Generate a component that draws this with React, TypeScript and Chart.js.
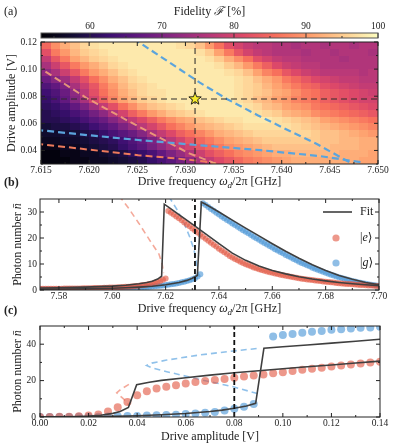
import React, { useEffect, useRef } from "react";
import { Chart, registerables } from "chart.js";

Chart.register(...registerables);

const W = 397;
const H = 446;
const SERIF = "'Liberation Serif', 'DejaVu Serif', serif";
const INK = "#222222";

// ---------------- Panel (a): readout fidelity map ----------------
const heatFreq = [7.6155, 7.6165, 7.6175, 7.6185, 7.6195, 7.6205, 7.6215, 7.6225, 7.6235, 7.6245, 7.6255, 7.6265, 7.6275, 7.6285, 7.6295, 7.6305, 7.6315, 7.6325, 7.6335, 7.6345, 7.6355, 7.6365, 7.6375, 7.6385, 7.6395, 7.6405, 7.6415, 7.6425, 7.6435, 7.6445, 7.6455, 7.6465, 7.6475, 7.6485, 7.6495];
const heatAmp = [0.1175, 0.1125, 0.1075, 0.1025, 0.0975, 0.0925, 0.0875, 0.0825, 0.0775, 0.0725, 0.0675, 0.0625, 0.0575, 0.0525, 0.0475, 0.0425, 0.0375, 0.0325];
const fidelity = [
  [85, 89, 92, 94, 96, 97, 98, 98, 98, 98, 98, 98, 98, 98, 97, 96, 94, 90, 86, 82, 80, 78, 77, 77, 76, 76, 75, 76, 76, 75, 76, 76, 75, 76, 76],
  [82, 87, 90, 93, 95, 96, 97, 98, 98, 98, 98, 98, 98, 98, 98, 98, 97, 95, 91, 87, 83, 80, 78, 77, 76, 76, 76, 75, 76, 76, 75, 76, 76, 76, 75],
  [78, 83, 87, 91, 93, 95, 96, 97, 98, 98, 98, 98, 98, 98, 98, 98, 98, 97, 95, 92, 89, 86, 82, 80, 78, 77, 77, 76, 76, 76, 76, 75, 76, 76, 76],
  [75, 79, 83, 87, 90, 92, 94, 96, 97, 98, 98, 98, 98, 98, 98, 98, 98, 98, 97, 95, 93, 90, 87, 84, 81, 79, 78, 77, 77, 76, 76, 76, 76, 76, 76],
  [72, 75, 79, 83, 87, 90, 92, 94, 96, 97, 98, 98, 98, 98, 98, 98, 98, 98, 98, 97, 96, 94, 91, 88, 86, 83, 81, 79, 78, 77, 77, 77, 77, 76, 77],
  [68, 71, 74, 78, 82, 86, 89, 92, 94, 96, 97, 98, 98, 98, 98, 98, 98, 98, 98, 98, 97, 96, 94, 92, 90, 87, 85, 83, 81, 80, 79, 78, 78, 77, 77],
  [65, 67, 70, 75, 79, 83, 87, 90, 93, 95, 96, 97, 98, 98, 98, 98, 98, 98, 98, 98, 97, 96, 95, 93, 91, 89, 87, 85, 84, 82, 81, 80, 79, 78, 78],
  [63, 65, 68, 72, 77, 82, 86, 89, 92, 94, 96, 97, 97, 98, 98, 98, 98, 98, 98, 98, 97, 96, 95, 94, 92, 91, 89, 87, 86, 84, 83, 82, 81, 80, 79],
  [62, 64, 67, 71, 75, 80, 84, 88, 91, 93, 95, 96, 97, 98, 98, 98, 98, 98, 98, 98, 97, 96, 94, 93, 91, 90, 88, 87, 86, 84, 83, 82, 81, 80, 80],
  [61, 62, 64, 67, 70, 74, 78, 82, 86, 89, 92, 94, 95, 96, 97, 98, 98, 98, 98, 98, 98, 97, 96, 94, 93, 91, 90, 89, 87, 86, 85, 84, 83, 82, 81],
  [60, 61, 62, 64, 66, 69, 72, 76, 80, 84, 87, 90, 92, 94, 95, 96, 97, 98, 98, 98, 98, 98, 97, 96, 95, 93, 92, 91, 89, 88, 87, 86, 85, 84, 83],
  [60, 60, 61, 62, 64, 66, 68, 71, 74, 78, 81, 84, 87, 89, 91, 92, 94, 95, 96, 97, 97, 98, 98, 98, 97, 96, 95, 94, 93, 91, 90, 89, 88, 87, 86],
  [58, 59, 59, 60, 61, 63, 65, 67, 70, 73, 77, 80, 83, 86, 88, 90, 92, 93, 94, 95, 96, 97, 97, 97, 97, 97, 96, 95, 94, 93, 92, 91, 90, 89, 88],
  [57, 57, 58, 58, 59, 60, 62, 64, 66, 68, 71, 75, 78, 81, 84, 86, 88, 90, 92, 93, 94, 95, 96, 96, 96, 96, 96, 96, 95, 94, 94, 93, 92, 91, 90],
  [56, 56, 57, 57, 58, 59, 60, 61, 63, 65, 67, 70, 73, 77, 80, 83, 85, 87, 89, 91, 92, 93, 94, 95, 95, 95, 95, 95, 95, 94, 94, 93, 93, 92, 92],
  [55, 55, 56, 56, 57, 58, 59, 60, 62, 64, 66, 69, 72, 75, 78, 80, 83, 85, 87, 89, 90, 91, 92, 93, 94, 94, 94, 94, 94, 94, 93, 93, 93, 92, 92],
  [54, 54, 55, 55, 56, 56, 57, 58, 59, 61, 62, 64, 67, 70, 73, 76, 79, 82, 84, 86, 88, 89, 90, 91, 92, 92, 93, 93, 93, 93, 93, 92, 92, 92, 91],
  [54, 54, 54, 55, 55, 56, 56, 57, 58, 59, 60, 62, 64, 66, 69, 72, 75, 78, 81, 83, 85, 87, 88, 89, 90, 91, 92, 92, 92, 92, 92, 92, 92, 91, 91],
];
const fidelityMin = 53.2;
const fidelityMax = 100;
const cbarTicks = [60, 70, 80, 90, 100];
const cbarMinor = [55, 65, 75, 85, 95];
const freqTicksA = [7.615, 7.62, 7.625, 7.63, 7.635, 7.64, 7.645, 7.65];
const freqMinorA = [7.6175, 7.6225, 7.6275, 7.6325, 7.6375, 7.6425, 7.6475];
const ampTicksA = [0.04, 0.06, 0.08, 0.1, 0.12];
const ampMinorA = [0.03, 0.05, 0.07, 0.09, 0.11];

// bistability boundaries (dashed)
const gUpperFreq = [7.6246, 7.629, 7.6315, 7.6343, 7.6375, 7.6405, 7.6436, 7.6476];
const gUpperAmp = [0.1225, 0.1018, 0.09, 0.078, 0.066, 0.0555, 0.045, 0.029];
const gLowerFreq = [7.6145, 7.62, 7.6251, 7.6312, 7.6378, 7.644, 7.6485];
const gLowerAmp = [0.0552, 0.0512, 0.0477, 0.044, 0.0402, 0.0358, 0.031];
const eUpperFreq = [7.6145, 7.615, 7.6197, 7.6242, 7.6304, 7.6329, 7.6335];
const eUpperAmp = [0.1025, 0.1003, 0.0788, 0.0612, 0.0378, 0.031, 0.0295];
const eLowerFreq = [7.6145, 7.6251, 7.6291, 7.632, 7.6332];
const eLowerAmp = [0.045, 0.0365, 0.0341, 0.0318, 0.03];

const opFreq = 7.631;
const opAmpMap = 0.078;
const opAmp = 0.08;

// ---------------- Panel (b): photon number vs drive frequency ----------------
const freqB = [
  7.573, 7.574, 7.575, 7.576, 7.577, 7.578, 7.579, 7.58, 7.581, 7.582,
  7.583, 7.584, 7.585, 7.586, 7.587, 7.588, 7.589, 7.59, 7.591, 7.592,
  7.593, 7.594, 7.595, 7.596, 7.597, 7.598, 7.599, 7.6, 7.601, 7.602,
  7.603, 7.604, 7.605, 7.606, 7.607, 7.608, 7.609, 7.61, 7.611, 7.612,
  7.613, 7.614, 7.615, 7.616, 7.617, 7.618, 7.619, 7.62, 7.621, 7.622,
  7.623, 7.624, 7.625, 7.626, 7.627, 7.628, 7.629, 7.63, 7.631, 7.632,
  7.633, 7.634, 7.635, 7.636, 7.637, 7.638, 7.639, 7.64, 7.641, 7.642,
  7.643, 7.644, 7.645, 7.646, 7.647, 7.648, 7.649, 7.65, 7.651, 7.652,
  7.653, 7.654, 7.655, 7.656, 7.657, 7.658, 7.659, 7.66, 7.661, 7.662,
  7.663, 7.664, 7.665, 7.666, 7.667, 7.668, 7.669, 7.67, 7.671, 7.672,
  7.673, 7.674, 7.675, 7.676, 7.677, 7.678, 7.679, 7.68, 7.681, 7.682,
  7.683, 7.684, 7.685, 7.686, 7.687, 7.688, 7.689, 7.69, 7.691, 7.692,
  7.693, 7.694, 7.695, 7.696, 7.697, 7.698, 7.699, 7.7,
];
const photonE_B = [
  0.45, 0.45, 0.46, 0.47, 0.48, 0.49, 0.5, 0.51, 0.52, 0.53,
  0.54, 0.56, 0.57, 0.59, 0.6, 0.62, 0.64, 0.66, 0.68, 0.7,
  0.73, 0.75, 0.78, 0.81, 0.84, 0.88, 0.92, 0.96, 1.0, 1.05,
  1.1, 1.16, 1.22, 1.29, 1.37, 1.45, 1.55, 1.66, 1.78, 1.92,
  2.08, 2.27, 2.5, 2.76, 3.08, 3.46, 3.95, 4.45, 30.4, 29.7,
  29.0, 28.3, 27.6, 26.8, 26.0, 25.2, 24.5, 23.7, 22.9, 22.1,
  21.3, 20.5, 19.7, 18.9, 18.2, 17.4, 16.7, 15.9, 15.2, 14.5,
  13.8, 13.1, 12.5, 11.9, 11.4, 10.9, 10.4, 9.9, 9.5, 9.1,
  8.7, 8.35, 8.0, 7.7, 7.4, 7.1, 6.85, 6.6, 6.35, 6.15,
  5.9, 5.7, 5.5, 5.3, 5.1, 4.9, 4.7, 4.5, 4.35, 4.2,
  4.05, 3.9, 3.8, 3.7, 3.55, 3.45, 3.3, 3.2, 3.1, 2.95,
  2.85, 2.7, 2.6, 2.5, 2.45, 2.35, 2.3, 2.2, 2.1, 2.05,
  1.95, 1.9, 1.8, 1.75, 1.7, 1.6, 1.55, 1.5,
];
const photonG_B = [
  0.3, 0.3, 0.31, 0.31, 0.32, 0.32, 0.33, 0.33, 0.34, 0.35,
  0.35, 0.36, 0.37, 0.38, 0.39, 0.4, 0.41, 0.42, 0.44, 0.45,
  0.47, 0.48, 0.5, 0.52, 0.54, 0.56, 0.58, 0.6, 0.63, 0.66,
  0.69, 0.72, 0.75, 0.79, 0.83, 0.88, 0.93, 0.98, 1.04, 1.1,
  1.17, 1.25, 1.33, 1.42, 1.52, 1.63, 1.75, 1.88, 2.02, 2.17,
  2.34, 2.52, 2.72, 2.94, 3.18, 3.45, 3.75, 4.1, 4.5, 5.2,
  6.1, 33.4, 32.7, 31.9, 31.2, 30.5, 29.7, 29.0, 28.3, 27.6,
  26.9, 26.3, 25.6, 25.0, 24.3, 23.7, 23.0, 22.4, 21.8, 21.2,
  20.5, 19.9, 19.3, 18.7, 18.1, 17.5, 16.9, 16.3, 15.7, 15.2,
  14.6, 14.1, 13.5, 13.0, 12.5, 11.9, 11.4, 10.9, 10.4, 10.0,
  9.5, 9.1, 8.6, 8.2, 7.8, 7.4, 7.0, 6.6, 6.25, 5.9,
  5.55, 5.2, 4.9, 4.6, 4.3, 4.0, 3.75, 3.5, 3.25, 3.0,
  2.8, 2.6, 2.4, 2.2, 2.05, 1.9, 1.75, 1.6,
];
const fitEFreqB = [7.573, 7.58, 7.59, 7.6, 7.605, 7.61, 7.613, 7.615, 7.617, 7.6185, 7.6195, 7.622, 7.625, 7.63, 7.635, 7.64, 7.645, 7.65, 7.655, 7.66, 7.665, 7.67, 7.675, 7.68, 7.685, 7.69, 7.695, 7.7];
const fitEValB = [0.75, 0.85, 1.1, 1.5, 1.85, 2.4, 2.9, 3.4, 4.2, 5.3, 33.0, 31.2, 29.0, 25.3, 21.6, 17.8, 14.2, 11.4, 9.2, 7.5, 6.2, 5.1, 4.2, 3.5, 2.9, 2.4, 2.0, 1.7];
const fitGFreqB = [7.573, 7.58, 7.59, 7.6, 7.605, 7.61, 7.615, 7.62, 7.625, 7.628, 7.63, 7.6319, 7.6334, 7.635, 7.64, 7.645, 7.65, 7.655, 7.66, 7.665, 7.67, 7.675, 7.68, 7.685, 7.69, 7.695, 7.7];
const fitGValB = [0.35, 0.4, 0.5, 0.7, 0.85, 1.1, 1.45, 2.0, 2.9, 3.7, 4.5, 5.6, 33.8, 33.0, 30.0, 26.9, 23.8, 20.8, 17.8, 14.9, 12.2, 9.7, 7.5, 5.6, 4.1, 2.9, 2.0];
const unstEFreqB = [7.6025, 7.606, 7.61, 7.614, 7.6175, 7.6187, 7.6192];
const unstEValB = [36.3, 31.6, 25.6, 19.2, 13.8, 10.0, 6.5];
const unstGFreqB = [7.6212, 7.6245, 7.627, 7.629, 7.6305, 7.6314, 7.6319, 7.6321];
const unstGValB = [36.0, 30.5, 25.5, 20.5, 16.0, 12.0, 8.0, 6.0];
const freqTicksB = [7.58, 7.6, 7.62, 7.64, 7.66, 7.68, 7.7];
const freqMinorB = [7.59, 7.61, 7.63, 7.65, 7.67, 7.69];
const photonTicksB = [0, 10, 20, 30];
const photonMinorB = [5, 15, 25];

// ---------------- Panel (c): photon number vs drive amplitude ----------------
const ampC = [0, 0.004, 0.008, 0.012, 0.016, 0.02, 0.024, 0.028, 0.032, 0.036, 0.04, 0.044, 0.048, 0.052, 0.056, 0.06, 0.064, 0.068, 0.072, 0.076, 0.08, 0.084, 0.088, 0.092, 0.096, 0.1, 0.104, 0.108, 0.112, 0.116, 0.12, 0.124, 0.128, 0.132, 0.136, 0.14];
const photonE_C = [0, 0, 0.1, 0.2, 0.4, 0.8, 1.4, 3.0, 5.3, 8.2, 12.0, 14.2, 15.6, 16.6, 17.5, 18.4, 19.2, 19.8, 20.3, 20.9, 21.6, 22.2, 22.8, 23.4, 24.0, 24.6, 25.3, 25.9, 26.5, 27.1, 27.7, 28.3, 28.8, 29.4, 29.9, 30.3];
const photonG_C = [0, 0, 0, 0.05, 0.1, 0.15, 0.2, 0.3, 0.4, 0.5, 0.6, 0.8, 0.9, 1.1, 1.3, 1.6, 1.9, 2.3, 2.8, 3.6, 4.5, 5.6, 7.2, null, 44.2, 45.0, 45.6, 46.3, 46.8, 47.3, 47.9, 48.2, 48.6, 49.0, 49.2, 49.6];
const fitEAmpC = [0, 0.005, 0.01, 0.015, 0.02, 0.025, 0.03, 0.033, 0.0364, 0.0398, 0.045, 0.05, 0.06, 0.07, 0.08, 0.09, 0.1, 0.11, 0.12, 0.13, 0.14];
const fitEValC = [0, 0.03, 0.1, 0.25, 0.5, 1.0, 2.0, 3.0, 5.2, 17.8, 19.1, 20.1, 21.6, 23.0, 24.3, 25.4, 26.5, 27.6, 28.6, 29.7, 30.7];
const fitGAmpC = [0, 0.01, 0.02, 0.03, 0.04, 0.05, 0.06, 0.07, 0.075, 0.08, 0.085, 0.0888, 0.0922, 0.1, 0.11, 0.12, 0.13, 0.14];
const fitGValC = [0, 0.05, 0.15, 0.35, 0.7, 1.2, 1.9, 3.0, 3.8, 4.8, 6.0, 7.5, 37.8, 38.6, 39.6, 40.6, 41.6, 42.7];
const unstEAmpC = [0.0366, 0.0345, 0.0325, 0.0316, 0.0325, 0.0345, 0.0366];
const unstEValC = [17.9, 16.2, 14.4, 13.3, 12.2, 9.8, 6.6];
const unstGAmpC = [0.0892, 0.0796, 0.0659, 0.0522, 0.046, 0.0439, 0.046, 0.0522, 0.0659, 0.0796, 0.0897];
const unstGValC = [37.6, 36.3, 34.1, 31.3, 29.6, 28.3, 27.0, 24.9, 20.6, 16.6, 12.8];
const ampTicksC = [0, 0.02, 0.04, 0.06, 0.08, 0.1, 0.12, 0.14];
const ampMinorC = [0.01, 0.03, 0.05, 0.07, 0.09, 0.11, 0.13];
const photonTicksC = [0, 20, 40];
const photonMinorC = [10, 30];

// ---------------- styles ----------------
const MAGMA = [
  [0, 0, 4], [20, 14, 54], [59, 15, 112], [100, 26, 128], [140, 41, 129], [183, 55, 121],
  [222, 73, 104], [247, 112, 92], [254, 159, 109], [254, 207, 146], [252, 253, 191],
];
function magma(v: number) {
  let t = (v - fidelityMin) / (fidelityMax - fidelityMin);
  t = Math.max(0, Math.min(1, t));
  const p = t * (MAGMA.length - 1);
  const i = Math.min(MAGMA.length - 2, Math.floor(p));
  const f = p - i;
  const a = MAGMA[i], b = MAGMA[i + 1];
  const c = a.map((av, k) => Math.round(av + (b[k] - av) * f));
  return `rgb(${c[0]},${c[1]},${c[2]})`;
}

const RED = "rgba(226, 88, 68, 0.62)";
const BLUE = "rgba(75, 150, 215, 0.62)";
const FIT = "#3f3f3f";
const RED_TH = "rgba(240, 140, 120, 0.75)";
const BLUE_TH = "rgba(125, 182, 230, 0.85)";

type Run = { t: string; it?: boolean; sub?: boolean };
function drawRuns(ctx: CanvasRenderingContext2D, runs: Run[], x: number, y: number, size: number, opts: { align?: string; rotate?: boolean; bold?: boolean } = {}) {
  ctx.save();
  ctx.fillStyle = INK;
  ctx.textBaseline = "middle";
  ctx.textAlign = "left";
  const fontFor = (r: Run) => `${r.it ? "italic " : ""}${opts.bold ? "bold " : ""}${r.sub ? Math.round(size * 0.72) : size}px ${SERIF}`;
  let total = 0;
  const widths = runs.map((r) => {
    ctx.font = fontFor(r);
    const w = ctx.measureText(r.t).width;
    total += w;
    return w;
  });
  ctx.translate(x, y);
  if (opts.rotate) ctx.rotate(-Math.PI / 2);
  let cx = opts.align === "left" ? 0 : -total / 2;
  runs.forEach((r, i) => {
    ctx.font = fontFor(r);
    ctx.fillText(r.t, cx, r.sub ? size * 0.3 : 0);
    cx += widths[i];
  });
  ctx.restore();
}

const tickFont = { family: SERIF, size: 9.5 };

function xAxis(min: number, max: number, ticks: number[], digits: number, position = "bottom") {
  return {
    type: "linear",
    position,
    min,
    max,
    bounds: "data",
    grid: { display: false, drawTicks: false },
    border: { display: false },
    ticks: { autoSkip: false, maxRotation: 0, minRotation: 0, padding: 1, color: INK, font: tickFont, callback: (v: any) => Number(v).toFixed(digits) },
    afterBuildTicks: (ax: any) => { ax.ticks = ticks.map((v) => ({ value: v })); },
    afterFit: (ax: any) => { ax.height = 20; },
  };
}
function yAxis(min: number, max: number, ticks: number[], digits: number, width: number, pad: number) {
  return {
    type: "linear",
    min,
    max,
    bounds: "data",
    grid: { display: false, drawTicks: false },
    border: { display: false },
    ticks: { autoSkip: false, padding: pad, color: INK, font: tickFont, callback: (v: any) => Number(v).toFixed(digits) },
    afterBuildTicks: (ax: any) => { ax.ticks = ticks.map((v) => ({ value: v })); },
    afterFit: (ax: any) => { ax.width = width; },
  };
}

function framePlugin(id: string, xMinor: number[], yMinor: number[], hooks: any) {
  return {
    id,
    beforeDatasetsDraw(chart: any) { if (hooks.before) hooks.before(chart); },
    afterDatasetsDraw(chart: any) { if (hooks.after) hooks.after(chart); },
    afterDraw(chart: any) {
      const { ctx, chartArea: a, scales } = chart;
      const xs = scales.x, ys = scales.y;
      ctx.save();
      ctx.strokeStyle = INK;
      ctx.lineWidth = 1;
      const seg = (x0: number, y0: number, x1: number, y1: number) => { ctx.beginPath(); ctx.moveTo(x0, y0); ctx.lineTo(x1, y1); ctx.stroke(); };
      const xt = (v: number, len: number) => { const p = xs.getPixelForValue(v); seg(p, a.bottom, p, a.bottom - len); seg(p, a.top, p, a.top + len); };
      const yt = (v: number, len: number) => { const p = ys.getPixelForValue(v); seg(a.left, p, a.left + len, p); seg(a.right, p, a.right - len, p); };
      xs.ticks.forEach((t: any) => xt(t.value, 4));
      xMinor.forEach((v) => xt(v, 2));
      ys.ticks.forEach((t: any) => yt(t.value, 4));
      yMinor.forEach((v) => yt(v, 2));
      ctx.strokeRect(a.left, a.top, a.right - a.left, a.bottom - a.top);
      ctx.restore();
      if (hooks.texts) hooks.texts(ctx, chart);
    },
  };
}

const pts = (xs: number[], ys: (number | null)[]) => xs.map((x, i) => ({ x, y: ys[i] })).filter((p) => p.y !== null);
const lineDs = (data: any[], color: string, width: number, dash: number[], order: number) => ({
  data, showLine: true, borderColor: color, borderWidth: width, borderDash: dash, pointRadius: 0, fill: false, tension: 0, clip: 0, order,
});
const dotDs = (data: any[], color: string, r: number, order: number) => ({
  data, showLine: false, backgroundColor: color, pointBackgroundColor: color, pointBorderWidth: 0, borderWidth: 0, pointRadius: r, clip: 0, order,
});

function baseOptions(padding: any, scales: any) {
  return {
    responsive: false,
    animation: false,
    events: [],
    layout: { padding },
    plugins: { legend: { display: false }, tooltip: { enabled: false } },
    scales,
  };
}

const freqTitle: Run[] = [{ t: "Drive frequency " }, { t: "ω", it: true }, { t: "d", it: true, sub: true }, { t: "/2π [GHz]" }];
const photonTitle: Run[] = [{ t: "Photon number " }, { t: "n\u0304", it: true }];

export default function App() {
  const cbRef = useRef<HTMLCanvasElement>(null);
  const aRef = useRef<HTMLCanvasElement>(null);
  const bRef = useRef<HTMLCanvasElement>(null);
  const cRef = useRef<HTMLCanvasElement>(null);

  useEffect(() => {
    const charts: Chart[] = [];

    // ---- colour bar ----
    const cbPlugin = {
      id: "cbar",
      beforeDatasetsDraw(chart: any) {
        const { ctx, chartArea: a, scales } = chart;
        const xs = scales.x;
        ctx.save();
        const g = ctx.createLinearGradient(a.left, 0, a.right, 0);
        MAGMA.forEach((c, i) => g.addColorStop(i / (MAGMA.length - 1), `rgb(${c[0]},${c[1]},${c[2]})`));
        ctx.fillStyle = g;
        ctx.fillRect(a.left, a.top, a.right - a.left, a.bottom - a.top);
        ctx.strokeStyle = "#333";
        ctx.lineWidth = 1;
        cbarTicks.forEach((v) => { const p = xs.getPixelForValue(v); ctx.beginPath(); ctx.moveTo(p, a.top); ctx.lineTo(p, a.bottom); ctx.stroke(); });
        cbarMinor.forEach((v) => { const p = xs.getPixelForValue(v); ctx.beginPath(); ctx.moveTo(p, a.bottom); ctx.lineTo(p, a.bottom - 2); ctx.stroke(); });
        ctx.strokeStyle = "#555";
        ctx.strokeRect(a.left, a.top, a.right - a.left, a.bottom - a.top);
        ctx.restore();
        drawRuns(ctx, [{ t: "(a)" }], 4, 11.5, 12, { align: "left" });
        drawRuns(ctx, [{ t: "Fidelity " }, { t: "ℱ", it: true }, { t: " [%]" }], (a.left + a.right) / 2, 12, 12);
      },
    };
    if (cbRef.current) {
      charts.push(new Chart(cbRef.current, {
        type: "scatter",
        data: { datasets: [] },
        options: baseOptions({ left: 41, right: W - 378, top: 13, bottom: H - 38 }, {
          x: xAxis(fidelityMin, fidelityMax, cbarTicks, 0, "top"),
          y: { display: false, min: 0, max: 1 },
        }) as any,
        plugins: [cbPlugin as any],
      }));
    }

    // ---- panel (a) map ----
    const heatHooks = {
      before(chart: any) {
        const { ctx, chartArea: a, scales } = chart;
        const xs = scales.x, ys = scales.y;
        const dx = (heatFreq[1] - heatFreq[0]) / 2;
        const dy = (heatAmp[0] - heatAmp[1]) / 2;
        const xe = heatFreq.map((f) => Math.round(xs.getPixelForValue(f - dx)));
        xe.push(Math.round(xs.getPixelForValue(heatFreq[heatFreq.length - 1] + dx)));
        const ye = heatAmp.map((v) => Math.round(ys.getPixelForValue(v + dy)));
        ye.push(Math.round(ys.getPixelForValue(heatAmp[heatAmp.length - 1] - dy)));
        ctx.save();
        ctx.beginPath();
        ctx.rect(a.left, a.top, a.right - a.left, a.bottom - a.top);
        ctx.clip();
        fidelity.forEach((row, j) => row.forEach((v, i) => {
          ctx.fillStyle = magma(v);
          ctx.fillRect(xe[i], ye[j], xe[i + 1] - xe[i], ye[j + 1] - ye[j]);
        }));
        ctx.restore();
      },
      after(chart: any) {
        const { ctx, scales } = chart;
        const cx = scales.x.getPixelForValue(opFreq);
        const cy = scales.y.getPixelForValue(opAmpMap);
        ctx.save();
        ctx.beginPath();
        for (let k = 0; k < 10; k++) {
          const r = k % 2 === 0 ? 6.5 : 2.7;
          const ang = -Math.PI / 2 + (k * Math.PI) / 5;
          const px = cx + r * Math.cos(ang), py = cy + r * Math.sin(ang);
          if (k === 0) ctx.moveTo(px, py); else ctx.lineTo(px, py);
        }
        ctx.closePath();
        ctx.fillStyle = "#f7ec2a";
        ctx.fill();
        ctx.strokeStyle = "#111";
        ctx.lineWidth = 0.9;
        ctx.stroke();
        ctx.restore();
      },
      texts(ctx: CanvasRenderingContext2D, chart: any) {
        const a = chart.chartArea;
        drawRuns(ctx, [{ t: "Drive amplitude [V]" }], 11.5, (a.top + a.bottom) / 2, 12, { rotate: true });
        drawRuns(ctx, freqTitle, (a.left + a.right) / 2, 182, 12);
      },
    };
    if (aRef.current) {
      charts.push(new Chart(aRef.current, {
        type: "scatter",
        data: {
          datasets: [
            lineDs([{ x: opFreq, y: 0.03 }, { x: opFreq, y: 0.12 }], "rgba(45,45,45,0.65)", 1.6, [6, 4], 0),
            lineDs([{ x: 7.615, y: opAmpMap }, { x: 7.65, y: opAmpMap }], "rgba(45,45,45,0.65)", 1.6, [6, 4], 1),
            lineDs(pts(gUpperFreq, gUpperAmp), "#5ba4dc", 2.2, [7, 4], 2),
            lineDs(pts(gLowerFreq, gLowerAmp), "#5ba4dc", 2.2, [7, 4], 3),
            lineDs(pts(eUpperFreq, eUpperAmp), "rgba(246,168,120,0.85)", 2, [7, 4], 4),
            lineDs(pts(eLowerFreq, eLowerAmp), "#ee7b5c", 2, [7, 4], 5),
          ],
        },
        options: baseOptions({ left: 0, right: W - 378, top: 42, bottom: H - 164 - 20 }, {
          x: xAxis(7.615, 7.65, freqTicksA, 3),
          y: yAxis(0.03, 0.12, ampTicksA, 2, 41, 4),
        }) as any,
        plugins: [framePlugin("frameA", freqMinorA, ampMinorA, heatHooks) as any],
      }));
    }

    // ---- panel (b) ----
    const bHooks = {
      texts(ctx: CanvasRenderingContext2D, chart: any) {
        const a = chart.chartArea;
        drawRuns(ctx, [{ t: "(b)" }], 4, 183, 12, { align: "left", bold: true });
        drawRuns(ctx, photonTitle, 17.5, (a.top + a.bottom) / 2, 12, { rotate: true });
        drawRuns(ctx, freqTitle, (a.left + a.right) / 2, 309, 12);
        const lx = a.right - 56, ly = a.top + 13;
        ctx.save();
        ctx.strokeStyle = FIT;
        ctx.lineWidth = 1.6;
        ctx.beginPath(); ctx.moveTo(lx, ly); ctx.lineTo(lx + 29, ly); ctx.stroke();
        ctx.fillStyle = RED;
        ctx.beginPath(); ctx.arc(lx + 13, ly + 26, 3.6, 0, Math.PI * 2); ctx.fill();
        ctx.fillStyle = BLUE;
        ctx.beginPath(); ctx.arc(lx + 13, ly + 51, 3.6, 0, Math.PI * 2); ctx.fill();
        ctx.restore();
        drawRuns(ctx, [{ t: "Fit" }], lx + 37, ly, 12, { align: "left" });
        drawRuns(ctx, [{ t: "|" }, { t: "e", it: true }, { t: "⟩" }], lx + 37, ly + 26, 12, { align: "left" });
        drawRuns(ctx, [{ t: "|" }, { t: "g", it: true }, { t: "⟩" }], lx + 37, ly + 51, 12, { align: "left" });
      },
    };
    if (bRef.current) {
      charts.push(new Chart(bRef.current, {
        type: "scatter",
        data: {
          datasets: [
            lineDs([{ x: opFreq, y: 0 }, { x: opFreq, y: 35 }], "#111", 1.8, [5, 3], 0),
            lineDs(pts(fitEFreqB, fitEValB), FIT, 1.6, [], 1),
            lineDs(pts(fitGFreqB, fitGValB), FIT, 1.6, [], 2),
            dotDs(pts(freqB, photonE_B), RED, 3, 3),
            dotDs(pts(freqB, photonG_B), BLUE, 3, 4),
            lineDs(pts(unstEFreqB, unstEValB), RED_TH, 1.6, [6, 4], 5),
            lineDs(pts(unstGFreqB, unstGValB), BLUE_TH, 1.6, [6, 4], 6),
          ],
        },
        options: baseOptions({ left: 0, right: W - 379, top: 199, bottom: H - 290 - 20 }, {
          x: xAxis(7.5729, 7.7, freqTicksB, 2),
          y: yAxis(0, 35, photonTicksB, 0, 40, 3),
        }) as any,
        plugins: [framePlugin("frameB", freqMinorB, photonMinorB, bHooks) as any],
      }));
    }

    // ---- panel (c) ----
    const cHooks = {
      texts(ctx: CanvasRenderingContext2D, chart: any) {
        const a = chart.chartArea;
        drawRuns(ctx, [{ t: "(c)" }], 4, 310.5, 12, { align: "left", bold: true });
        drawRuns(ctx, photonTitle, 17.5, (a.top + a.bottom) / 2, 12, { rotate: true });
        drawRuns(ctx, [{ t: "Drive amplitude [V]" }], (a.left + a.right) / 2, 437, 12);
      },
    };
    if (cRef.current) {
      charts.push(new Chart(cRef.current, {
        type: "scatter",
        data: {
          datasets: [
            lineDs([{ x: opAmp, y: 0 }, { x: opAmp, y: 50 }], "#111", 1.8, [5, 3], 0),
            lineDs(pts(fitEAmpC, fitEValC), FIT, 1.6, [], 1),
            lineDs(pts(fitGAmpC, fitGValC), FIT, 1.6, [], 2),
            dotDs(pts(ampC, photonE_C), RED, 4, 3),
            dotDs(pts(ampC, photonG_C), BLUE, 4, 4),
            lineDs(pts(unstEAmpC, unstEValC), RED_TH, 1.6, [6, 4], 5),
            lineDs(pts(unstGAmpC, unstGValC), BLUE_TH, 1.6, [6, 4], 6),
          ],
        },
        options: baseOptions({ left: 0, right: W - 380, top: 326, bottom: H - 417 - 20 }, {
          x: xAxis(0, 0.14, ampTicksC, 2),
          y: yAxis(0, 50, photonTicksC, 0, 40, 4),
        }) as any,
        plugins: [framePlugin("frameC", ampMinorC, photonMinorC, cHooks) as any],
      }));
    }

    return () => charts.forEach((c) => c.destroy());
  }, []);

  const cs: React.CSSProperties = { position: "absolute", left: 0, top: 0 };
  return (
    <div style={{ position: "fixed", left: 0, top: 0, width: W, height: H, background: "#ffffff", overflow: "hidden" }}>
      <canvas ref={aRef} width={W} height={H} style={cs} />
      <canvas ref={cbRef} width={W} height={H} style={cs} />
      <canvas ref={bRef} width={W} height={H} style={cs} />
      <canvas ref={cRef} width={W} height={H} style={cs} />
    </div>
  );
}
